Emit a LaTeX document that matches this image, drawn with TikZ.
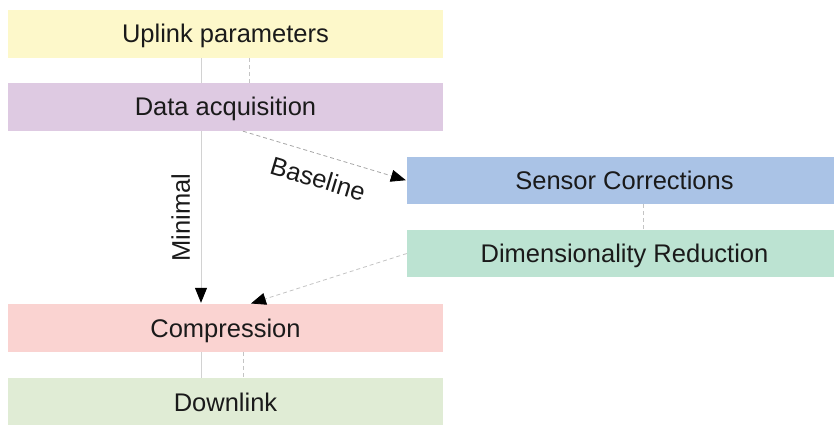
\documentclass[tikz,border=0pt]{standalone}
\usepackage{fontspec}
\setmainfont{Liberation Sans}
\usetikzlibrary{arrows.meta}
\definecolor{cUp}{HTML}{FDF8CA}
\definecolor{cDa}{HTML}{DECAE2}
\definecolor{cSc}{HTML}{AAC3E6}
\definecolor{cDr}{HTML}{BCE3D2}
\definecolor{cCo}{HTML}{FAD3D1}
\definecolor{cDl}{HTML}{E0ECD5}
\definecolor{cLine}{HTML}{D2D2D2}
\definecolor{cDash}{HTML}{C4C4C4}
\definecolor{cTxt}{HTML}{1A1A1A}
\tikzset{
  stage/.style={rectangle, inner sep=0pt, minimum width=435pt, minimum height=48pt,
    text height=20pt, text depth=2pt,
    font=\fontsize{25.5}{30}\selectfont, text=cTxt},
  sidestage/.style={stage, minimum height=47pt},
  plainlink/.style={draw=cLine, line width=0.8pt},
  dashlink/.style={draw=cDash, line width=0.8pt, dash pattern=on 4pt off 3pt},
  tip/.style={-{Triangle[length=15pt,width=12pt,color=black]}, shorten >=1pt},
  lbl/.style={font=\fontsize{25.5}{30}\selectfont, text=cTxt}
}
\begin{document}
\begin{tikzpicture}[x=1pt,y=1pt]
\useasboundingbox (0,-425) rectangle (834,0);
\node[stage, fill=cUp] (up) at (225.5,-34) {Uplink parameters};
\node[stage, fill=cDa] (da) at (225.5,-107) {Data acquisition};
\node[sidestage, fill=cSc] (sc) at (624.5,-180.5) {Sensor Corrections};
\node[sidestage, fill=cDr] (dr) at (624.5,-253.5) {Dimensionality Reduction};
\node[stage, fill=cCo] (co) at (225.5,-328) {Compression};
\node[stage, fill=cDl] (dl) at (225.5,-402) {Downlink};

\draw[plainlink] (up.south -| 201,0) -- (da.north -| 201,0);
\draw[dashlink] (up.south -| 249,0) -- (da.north -| 249,0);

\draw[plainlink, tip] (da.south -| 201,0) -- (co.north -| 201,0)
  node[lbl, pos=0.5, rotate=90, anchor=south, inner sep=10.5pt] {Minimal};

\draw[dashlink, draw=cDash!85!black, tip] (da.south -| 243,0) -- (sc.west)
  node[lbl, pos=0.5, sloped, anchor=north, inner sep=0pt, yshift=-14pt] {Baseline};

\draw[dashlink] (sc.south -| 643,0) -- (dr.north -| 643,0);

\draw[dashlink, tip] (dr.west) -- (co.north -| 250,0);

\draw[plainlink] (co.south -| 201,0) -- (dl.north -| 201,0);
\draw[dashlink] (co.south -| 243,0) -- (dl.north -| 243,0);
\end{tikzpicture}
\end{document}
